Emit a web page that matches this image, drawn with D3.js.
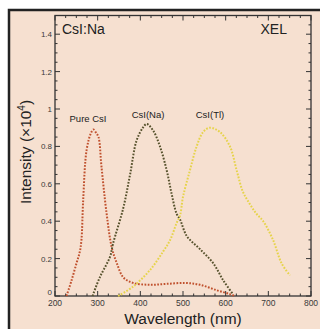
<!DOCTYPE html>
<meta charset="utf-8">
<style>
  body { margin: 0; background: #fff; }
  svg text { font-family: "Liberation Sans", Arial, sans-serif; }
</style>
<script src="https://d3js.org/d3.v7.min.js"></script>
<div id="chart"></div>
<script>
// data: [wavelength nm, intensity x1e4]
var pureCsI = [[227,0],[239,0.085],[251,0.18],[258,0.235],[262,0.30],[266,0.51],[274,0.78],[284,0.87],[290,0.89],
  [297,0.87],[302,0.85],[309,0.69],[321,0.44],[333,0.26],[345,0.175],[360,0.10],[383,0.07],[423,0.06],
  [462,0.065],[505,0.07],[540,0.06],[580,0.03],[610,0.01],[622,0]];
var csiNa = [[288,0],[305,0.10],[329,0.21],[336,0.28],[360,0.47],[376,0.65],[391,0.83],[406,0.90],[415,0.92],
  [430,0.885],[446,0.80],[462,0.67],[473,0.55],[485,0.44],[493,0.41],[509,0.32],[540,0.25],[571,0.175],
  [594,0.085],[617,0.01]];
var csiTl = [[348,0],[383,0.05],[423,0.14],[454,0.24],[470,0.30],[485,0.39],[493,0.43],[500,0.53],[516,0.67],
  [532,0.80],[547,0.876],[563,0.90],[587,0.876],[610,0.80],[626,0.67],[640,0.56],[657,0.49],[672,0.44],
  [688,0.40],[711,0.30],[731,0.175],[751,0.11]];
var seriesNames = ["Pure CsI", "CsI(Na)", "CsI(Tl)"];
var seriesColours = ["#c0512e", "#57522d", "#e6d34a"];
var xTicks = [200, 300, 400, 500, 600, 700, 800];
var yTicks = [0, 0.2, 0.4, 0.6, 0.8, 1, 1.2, 1.4];

var W = 320, H = 329;
var svg = d3.select("#chart").append("svg").attr("width", W).attr("height", H);

// frame + peach background
svg.append("rect").attr("x", 9).attr("y", 10).attr("width", W).attr("height", H)
  .attr("fill", "#f6e0d0").attr("stroke", "#222").attr("stroke-width", 2.5);

var pl = 55, pr = 311, pt = 15.5, pb = 296;
var x = d3.scaleLinear().domain([200, 800]).range([pl, pr]);
var y = d3.scaleLinear().domain([0, 1.5]).range([pb, pt]);

var axisCol = "#333";
// minor + major ticks, inward, all four sides
var g = svg.append("g").attr("stroke", axisCol).attr("stroke-width", 1);
d3.range(200, 801, 25).forEach(function(v) {
  var len = v % 100 === 0 ? 5 : 2.5;
  g.append("line").attr("x1", x(v)).attr("x2", x(v)).attr("y1", pb).attr("y2", pb - len);
  g.append("line").attr("x1", x(v)).attr("x2", x(v)).attr("y1", pt).attr("y2", pt + len);
});
d3.range(0, 30).forEach(function(k) {
  var v = k * 0.05;
  var len = k % 4 === 0 ? 5 : 2.5;
  g.append("line").attr("y1", y(v)).attr("y2", y(v)).attr("x1", pl).attr("x2", pl + len);
  g.append("line").attr("y1", y(v)).attr("y2", y(v)).attr("x1", pr).attr("x2", pr - len);
});
svg.append("rect").attr("x", pl).attr("y", pt).attr("width", pr - pl).attr("height", pb - pt)
  .attr("fill", "none").attr("stroke", axisCol).attr("stroke-width", 1.3);

svg.selectAll(".xl").data(xTicks).enter().append("text")
  .attr("x", function(d) { return x(d); }).attr("y", pb + 10)
  .attr("text-anchor", "middle").attr("font-size", 8.5).attr("fill", "#3a3a3a")
  .text(function(d) { return d; });
svg.selectAll(".yl").data(yTicks).enter().append("text")
  .attr("x", pl - 3).attr("y", function(d) { return y(d) + 3 - (d === 0 ? 4 : 0); })
  .attr("text-anchor", "end").attr("font-size", 8).attr("fill", "#3a3a3a")
  .text(function(d) { return d; });

svg.append("text").attr("x", 183).attr("y", 324).attr("text-anchor", "middle")
  .attr("font-size", 15.5).attr("fill", "#222").text("Wavelength (nm)");
var yt = svg.append("text").attr("transform", "translate(31,152) rotate(-90)")
  .attr("text-anchor", "middle").attr("font-size", 15.5).attr("fill", "#222");
yt.append("tspan").text("Intensity (\u00d710");
yt.append("tspan").attr("dy", -6).attr("font-size", 10).text("4");
yt.append("tspan").attr("dy", 6).text(")");

svg.append("text").attr("x", 62).attr("y", 34).attr("font-size", 14).attr("fill", "#222").text("CsI:Na");
svg.append("text").attr("x", 287).attr("y", 34).attr("text-anchor", "end").attr("font-size", 14)
  .attr("fill", "#222").text("XEL");

var line = d3.line().x(function(d) { return x(d[0]); }).y(function(d) { return y(d[1]); })
  .curve(d3.curveCatmullRom);
[pureCsI, csiNa, csiTl].forEach(function(s, i) {
  svg.append("path").datum(s).attr("d", line).attr("fill", "none")
    .attr("stroke", seriesColours[i]).attr("stroke-width", 2)
    .attr("stroke-dasharray", "1.7,1.5");
});

var labelPos = [[88, 122], [148, 118], [210, 118]];
seriesNames.forEach(function(n, i) {
  svg.append("text").attr("x", labelPos[i][0]).attr("y", labelPos[i][1]).attr("text-anchor", "middle")
    .attr("font-size", 9.5).attr("fill", "#222").text(n);
});
</script>
